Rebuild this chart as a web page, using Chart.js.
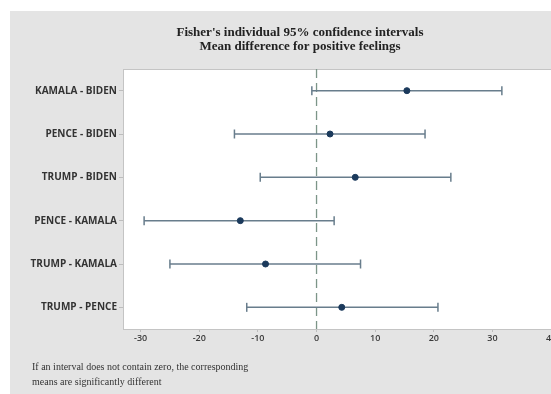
<!DOCTYPE html>
<html>
<head>
<meta charset="utf-8">
<script src="https://cdn.jsdelivr.net/npm/chart.js@4/dist/chart.umd.min.js"></script>
<style>
  html, body { margin: 0; padding: 0; background: #ffffff; overflow: hidden; }
  #wrap { position: absolute; left: 10px; top: 11px; width: 570px; height: 383px; background: #e4e4e4; }
  canvas { display: block; }
</style>
</head>
<body>
<div id="wrap"><canvas id="c" width="570" height="383"></canvas></div>
<script>
// Pairwise comparisons (rows top to bottom)
const comparisons = ['KAMALA - BIDEN', 'PENCE - BIDEN', 'TRUMP - BIDEN', 'PENCE - KAMALA', 'TRUMP - KAMALA', 'TRUMP - PENCE'];
// Mean differences and 95% interval bounds
const meanDiff = [15.4, 2.3, 6.6, -13.0, -8.7, 4.3];
const lowerBound = [-0.8, -14.0, -9.6, -29.4, -25.0, -11.9];
const upperBound = [31.6, 18.5, 22.9, 3.0, 7.5, 20.7];
const xTicks = [-30, -20, -10, 0, 10, 20, 30, 40];

const titleLines = ["Fisher's individual 95% confidence intervals", 'Mean difference for positive feelings'];
const noteLines = ['If an interval does not contain zero, the corresponding', 'means are significantly different'];

const intervalColor = '#687d8c';
const meanColor = '#1b3a5c';

const datasets = [];
// zero reference line
datasets.push({
  type: 'line',
  data: [{ x: 0, y: -0.5 }, { x: 0, y: 5.5 }],
  borderColor: '#7c9588',
  borderWidth: 1.3,
  borderDash: [9, 5],
  pointRadius: 0,
  order: 3
});
// interval bars with end caps
comparisons.forEach((name, i) => {
  datasets.push({
    type: 'line',
    data: [{ x: lowerBound[i], y: i }, { x: upperBound[i], y: i }],
    borderColor: intervalColor,
    borderWidth: 1.5,
    pointStyle: 'line',
    pointRotation: 90,
    pointRadius: 4.5,
    pointBorderColor: intervalColor,
    pointBorderWidth: 1.5,
    order: 2
  });
});
// means
datasets.push({
  type: 'scatter',
  data: meanDiff.map((m, i) => ({ x: m, y: i })),
  backgroundColor: meanColor,
  borderColor: meanColor,
  pointRadius: 3,
  order: 1
});

const frame = {
  id: 'frame',
  beforeDatasetsDraw(chart) {
    const { ctx, chartArea: a } = chart;
    ctx.save();
    ctx.fillStyle = '#ffffff';
    ctx.fillRect(a.left, a.top, a.right - a.left, a.bottom - a.top);
    ctx.strokeStyle = '#c4c4c4';
    ctx.lineWidth = 1;
    ctx.strokeRect(a.left + 0.5, a.top + 0.5, a.right - a.left, a.bottom - a.top);
    ctx.restore();
  },
  afterDraw(chart) {
    const ctx = chart.ctx;
    ctx.save();
    ctx.fillStyle = '#222222';
    ctx.textAlign = 'center';
    ctx.textBaseline = 'middle';
    ctx.font = 'bold 13px "Liberation Serif", "Times New Roman", serif';
    ctx.fillText(titleLines[0], 290, 22);
    ctx.fillText(titleLines[1], 290, 36);
    ctx.textAlign = 'left';
    ctx.fillStyle = '#333333';
    ctx.font = '10px "Liberation Serif", "Times New Roman", serif';
    ctx.fillText(noteLines[0], 22, 356);
    ctx.fillText(noteLines[1], 22, 371);
    ctx.restore();
  }
};

new Chart(document.getElementById('c'), {
  data: { datasets },
  options: {
    responsive: false,
    animation: false,
    layout: { padding: { top: 58, bottom: 40, right: 23, left: 0 } },
    plugins: { legend: { display: false }, tooltip: { enabled: false }, title: { display: false } },
    scales: {
      x: {
        type: 'linear',
        min: -33,
        max: 41,
        afterBuildTicks: s => { s.ticks = xTicks.map(v => ({ value: v })); },
        afterFit: s => { s.height = 25; },
        grid: { drawOnChartArea: false, drawTicks: true, tickLength: 3, color: '#bdbdbd' },
        border: { display: false },
        ticks: { color: '#3a3a3a', font: { family: '"Open Sans", sans-serif', size: 9, weight: '600' }, padding: 1, maxRotation: 0 }
      },
      y: {
        type: 'linear',
        reverse: true,
        min: -0.5,
        max: 5.5,
        afterBuildTicks: s => { s.ticks = comparisons.map((_, i) => ({ value: i })); },
        afterFit: s => { s.width = 113; },
        grid: { drawOnChartArea: false, drawTicks: true, tickLength: 4, color: '#bdbdbd' },
        border: { display: false },
        ticks: {
          color: '#333333',
          font: { family: '"Open Sans", sans-serif', size: 10, weight: 'bold' },
          padding: 2,
          callback: v => comparisons[v]
        }
      }
    }
  },
  plugins: [frame]
});
</script>
</body>
</html>
